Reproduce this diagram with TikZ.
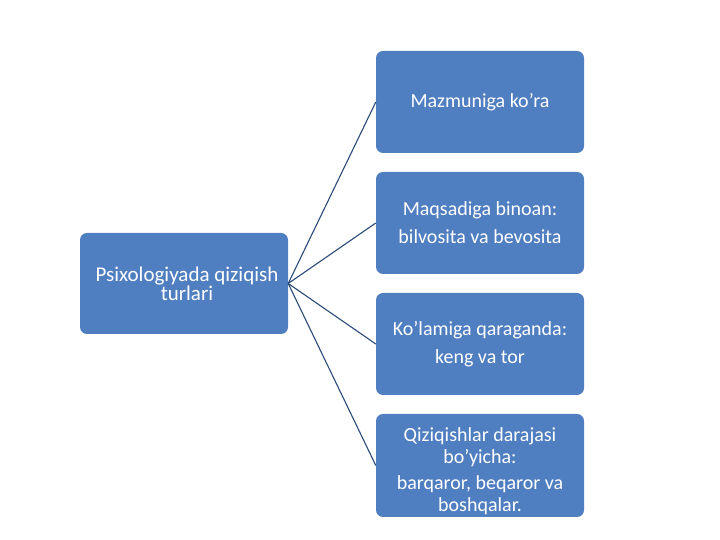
\documentclass[tikz,border=0pt]{standalone}
\usepackage{fontspec}
\setmainfont{Carlito}
\definecolor{boxblue}{HTML}{4F7EC1}
\definecolor{linenavy}{HTML}{2A4A78}
\begin{document}
\begin{tikzpicture}[x=1pt,y=1pt,
  box/.style={draw=none,fill=boxblue,rounded corners=7pt,minimum width=208pt,
    text=white,align=center,inner sep=0pt,font=\fontsize{20}{22}\selectfont},
  conn/.style={draw=linenavy,line width=1.1pt}]
\useasboundingbox (0,0) rectangle (720,540);
\node[box,minimum height=101pt,font=\fontsize{21}{19}\selectfont] (root) at (184,256.5) {\hspace*{6pt}Psixologiyada qiziqish\\\hspace*{6pt}turlari};
\node[box,minimum height=102pt] (b1) at (480,438) {Mazmuniga ko'ra};
\node[box,minimum height=102pt] (b2) at (480,317) {Maqsadiga binoan:\\[6pt]bilvosita va bevosita};
\node[box,minimum height=102pt] (b3) at (480,196) {Ko'lamiga qaraganda:\\[6pt]keng va tor};
\node[box,minimum height=103pt] (b4) at (480,74.5) {\rule{0pt}{25pt}Qiziqishlar darajasi\\bo'yicha:\\[4pt]barqaror, beqaror va\\boshqalar.};
\foreach \b in {b1,b2,b3,b4}{\draw[conn] (root.east) -- (\b.west);}
\end{tikzpicture}
\end{document}
